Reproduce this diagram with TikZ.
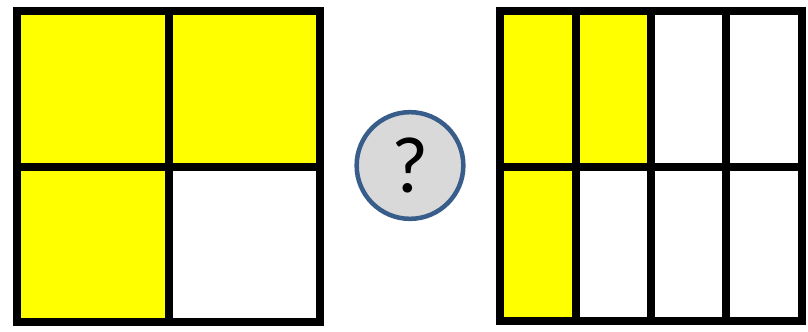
\documentclass[tikz,border=0pt]{standalone}
\usepackage{fontspec}
\setmainfont{Carlito}
\usepackage{tikz}
\definecolor{qblue}{HTML}{385D8A}
\definecolor{qgray}{HTML}{D9D9D9}
\definecolor{qyellow}{HTML}{FFFF00}
\begin{document}
\begin{tikzpicture}[x=0.75pt,y=-0.75pt,
  part/.style={fill=qyellow},
  grid/.style={draw=black,line width=6pt},
  ask/.style={circle,draw=qblue,fill=qgray,line width=3.4pt,minimum size=80pt,inner sep=0pt,font=\fontsize{60}{60}\selectfont}]
\useasboundingbox (0,0) rectangle (808,332);
% left square, three quarters
\fill[part] (17,11) rectangle (168.5,322);
\fill[part] (168.5,11) rectangle (320,166.5);
\draw[grid] (17,11) rectangle (320,322);
\draw[grid] (168.5,11) -- (168.5,322);
\draw[grid] (17,166.5) -- (320,166.5);
% question
\node[ask] (q) at (410,165.5) {?};
% right rectangle, three eighths
\fill[part] (500,11) rectangle (651,166.5);
\fill[part] (500,166.5) rectangle (575.5,320.5);
\draw[grid] (500,11) rectangle (802,320.5);
\foreach \x in {575.5,651,726} \draw[grid] (\x,11) -- (\x,320.5);
\draw[grid] (500,166.5) -- (802,166.5);
\end{tikzpicture}
\end{document}
